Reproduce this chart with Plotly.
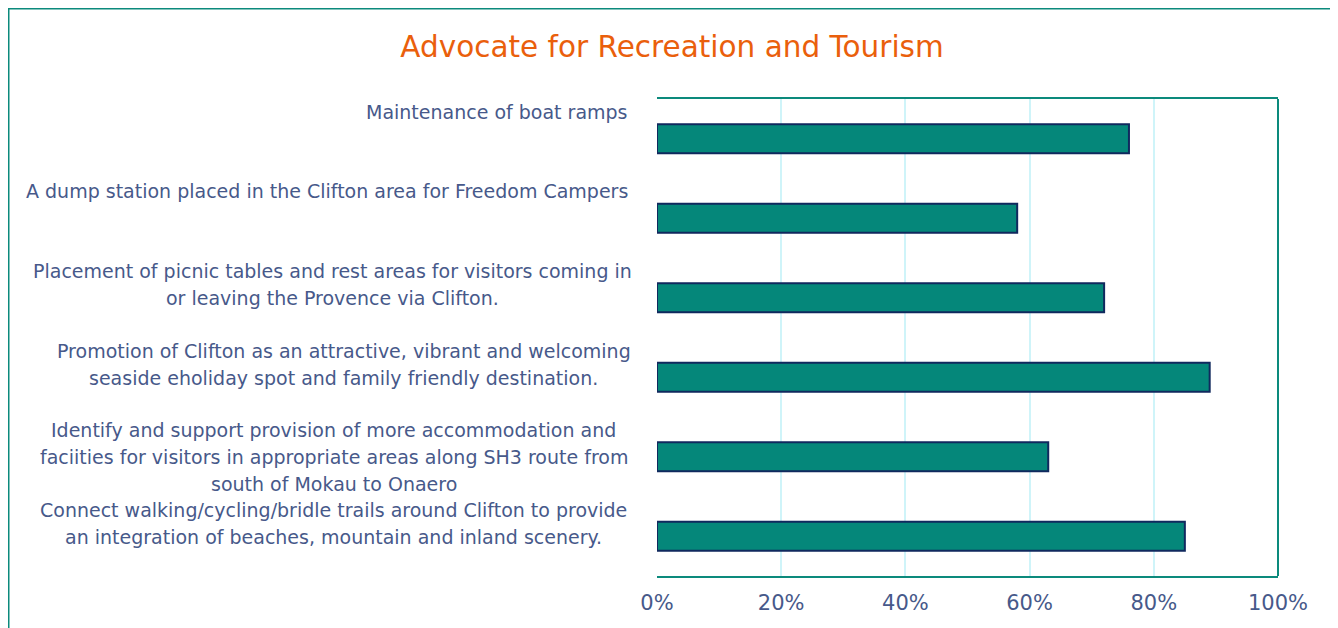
import plotly.graph_objects as go

categories = [
    "Maintenance of boat ramps",
    "A dump station placed in the Clifton area for Freedom Campers",
    "Placement of picnic tables and rest areas for visitors coming in<br>or leaving the Provence via Clifton.",
    "Promotion of Clifton as an attractive, vibrant and welcoming<br>seaside eholiday spot and family friendly destination.",
    "Identify and support provision of more accommodation and<br>faciities for visitors in appropriate areas along SH3 route from<br>south of Mokau to Onaero",
    "Connect walking/cycling/bridle trails around Clifton to provide<br>an integration of beaches, mountain and inland scenery.",
]
values = [0.76, 0.58, 0.72, 0.89, 0.63, 0.85]
tick_vals = [0, 0.2, 0.4, 0.6, 0.8, 1.0]
tick_text = ["0%", "20%", "40%", "60%", "80%", "100%"]
title_text = "Advocate for Recreation and Tourism"

# label layout (styling): vertical offset from bar centre (px) and
# horizontal centre of multi-line blocks (page px, None = right aligned)
label_shifts = [27, 27, 13.5, 12.5, 0, 12.5]
label_centers = [None, None, 332, 343.5, 333.5, 333]

TEAL = "#0C8A7C"
BAR = "#05877A"
NAVY = "#10295E"
TXT = "#47598A"
GRID = "#CFF4F9"
FONT = "DejaVu Sans"

# page is offset by the 8px body margin
OFF = 8
W, H = 1330, 620
L, R, T, B = 649, 60, 91, 52
pw, ph = W - L - R, H - T - B
PLOT_LEFT_PAGE = L + OFF

fig = go.Figure()
fig.add_trace(go.Bar(
    x=values, y=categories, orientation="h",
    marker=dict(color=BAR, line=dict(color=NAVY, width=2)),
    hoverinfo="x+y",
))

line_h = 27
annotations = []
for cat, shift, ctr in zip(categories, label_shifts, label_centers):
    lines = cat.split("<br>")
    n = len(lines)
    for i, ln in enumerate(lines):
        off = shift - (i - (n - 1) / 2) * line_h
        if ctr is None:
            xa, xs = "right", 630 - PLOT_LEFT_PAGE
        else:
            xa, xs = "center", ctr - PLOT_LEFT_PAGE
        annotations.append(dict(
            x=0, xref="paper", xanchor=xa, xshift=xs,
            y=cat, yref="y", yanchor="middle", yshift=off,
            text=ln, showarrow=False,
            font=dict(family=FONT, size=19, color=TXT),
        ))

def px_x(px):
    return (px - L) / pw

def px_y(py):
    return (H - B - py) / ph

shapes = [
    dict(type="rect", xref="paper", yref="paper",
         x0=px_x(0.5), x1=px_x(1328), y0=px_y(660), y1=px_y(0.5),
         line=dict(color=TEAL, width=2), fillcolor="rgba(0,0,0,0)", layer="below"),
    dict(type="line", xref="paper", yref="paper", x0=1, x1=1, y0=0, y1=1,
         line=dict(color=TEAL, width=2)),
]

fig.update_layout(
    width=W, height=H,
    margin=dict(l=L, r=R, t=T, b=B),
    paper_bgcolor="white", plot_bgcolor="white",
    title=dict(text=title_text, x=664 / W, xanchor="center", y=1 - 39 / H, yanchor="middle",
               font=dict(family=FONT, size=29.5, color="#EA5F0C")),
    bargap=0.635,
    showlegend=False,
    xaxis=dict(range=[0, 1], tickvals=tick_vals, ticktext=tick_text,
               showgrid=True, gridcolor=GRID, gridwidth=1.5,
               showline=True, linecolor=TEAL, linewidth=2, mirror=True,
               zeroline=False, ticks="", ticklen=0, ticklabelstandoff=7,
               tickfont=dict(family=FONT, size=21, color=TXT)),
    yaxis=dict(categoryorder="array", categoryarray=categories,
               range=[5.5, -0.5], showticklabels=False, showgrid=False,
               zeroline=False, showline=False, ticks=""),
    annotations=annotations,
    shapes=shapes,
)

fig.write_html("out.html")
